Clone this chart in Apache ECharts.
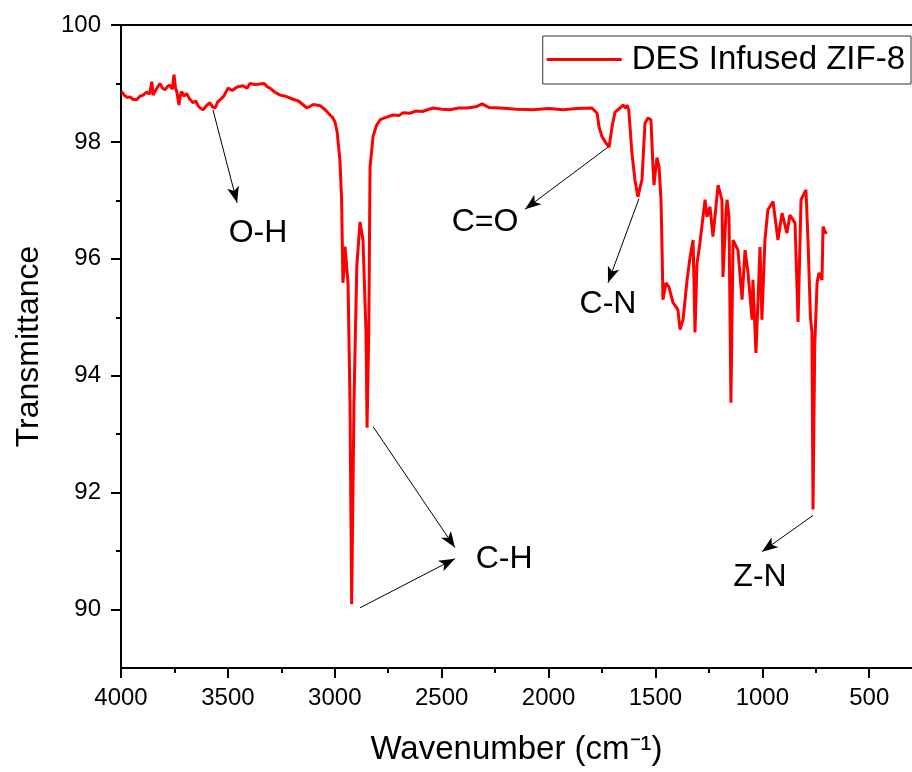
<!DOCTYPE html>
<html><head><meta charset="utf-8">
<script src="https://cdn.jsdelivr.net/npm/echarts@6/dist/echarts.min.js"></script>
<style>html,body{margin:0;padding:0;background:#fff}#c{width:912px;height:772px}</style>
</head><body><div id="c"></div>
<script>
const seriesName = 'DES Infused ZIF-8';
const wavenumber = [
3997,3985,3970,3958,3945,3927,3912,3897,3880,3866,3856,3850,3835,3818,3806,3794,3782,3771,3760,3752,3745,3739,3729,3722,3716,3705,3693,3680,3663,3650,3640,3630,3616,3600,3584,3572,3560,3548,3537,3520,3499,3480,3457,3430,3410,3397,3375,3350,3330,3315,3303,3280,3256,3230,3195,3170,3150,3130,3100,3069,3045,3022,3010,2999,2989,2976,2968,2962,2957,2952,2944,2938,2929,2921,2910,2897,2882,2868,2854,2849,2841,2835,2821,2805,2788,2760,2728,2700,2680,2648,2620,2590,2541,2500,2461,2420,2382,2340,2311,2280,2227,2150,2073,2000,1932,1870,1797,1773,1764,1750,1731,1717,1703,1689,1666,1652,1640,1633,1625,1619,1610,1596,1582,1570,1563,1549,1535,1521,1511,1507,1493,1483,1474,1469,1465,1451,1437,1418,1395,1385,1371,1352,1338,1324,1315,1306,1292,1268,1259,1245,1231,1207,1189,1184,1170,1165,1156,1147,1137,1114,1095,1081,1067,1048,1044,1030,1020,1011,1002,988,974,950,927,908,885,871,847,833,819,796,786,775,768,763,755,744,735,721,716,705,697
];
const transmittance = [
98.86,98.80,98.76,98.77,98.73,98.72,98.78,98.80,98.85,98.82,99.03,98.80,98.90,99.00,98.92,98.89,98.95,98.97,98.90,99.15,98.92,98.86,98.63,98.80,98.86,98.78,98.83,98.74,98.67,98.70,98.62,98.58,98.55,98.62,98.67,98.60,98.58,98.68,98.72,98.78,98.92,98.88,98.94,98.96,98.92,99.00,98.98,98.99,99.00,98.94,98.92,98.85,98.80,98.78,98.73,98.70,98.64,98.58,98.64,98.62,98.55,98.46,98.42,98.34,98.17,97.69,97.01,95.59,95.80,96.21,96.21,95.59,93.59,90.09,93.59,95.87,96.63,96.32,94.74,93.11,94.74,97.57,98.09,98.28,98.38,98.42,98.46,98.45,98.50,98.49,98.53,98.52,98.58,98.56,98.55,98.58,98.58,98.60,98.65,98.59,98.58,98.56,98.55,98.57,98.55,98.57,98.58,98.49,98.26,98.09,97.98,97.91,98.26,98.51,98.58,98.63,98.58,98.63,98.55,98.26,97.81,97.35,97.06,97.25,97.35,98.32,98.41,98.38,97.52,97.26,97.73,97.57,97.00,96.15,95.30,95.59,95.52,95.25,95.13,94.79,94.96,95.64,96.03,96.32,94.74,95.90,96.27,97.01,96.72,96.89,96.38,97.26,97.01,95.69,96.80,97.01,96.72,93.54,96.32,96.15,95.30,96.15,95.76,94.96,95.64,94.39,95.30,96.20,94.96,96.32,96.84,96.98,96.32,96.78,96.44,96.75,96.61,94.92,97.01,97.18,96.27,95.00,94.74,91.71,94.50,95.59,95.76,95.64,96.55,96.45,96.44
];
const xMajorTicks = [4000,3500,3000,2500,2000,1500,1000,500];
const xMinorTicks = [3750,3250,2750,2250,1750,1250,750];
const yMajorTicks = [90,92,94,96,98,100];
const yMinorTicks = [91,93,95,97,99];
const labelNames = ['O-H','C-H','C=O','C-N','Z-N'];
const labelWn = [3359,2208,2297,1722,1011];
const labelT = [96.44,90.87,96.62,95.23,90.56];
const arrowFromWn = [3570,2821,2882,1722,1577,763];
const arrowFromT = [98.55,93.13,90.03,97.91,97.03,91.61];
const arrowToWn = [3457,2438,2438,2110,1722,1002];
const arrowToT = [96.96,91.06,90.87,96.85,95.59,90.99];

const FONT = 'Liberation Sans, Arial, sans-serif';
const chart = echarts.init(document.getElementById('c'), null, {renderer:'canvas'});
const spectrum = wavenumber.map((w,i)=>[w, transmittance[i]]);
const labels = labelNames.map((n,i)=>[labelWn[i], labelT[i], n]);
const arrows = arrowFromWn.map((w,i)=>[{coord:[w, arrowFromT[i]]},{coord:[arrowToWn[i], arrowToT[i]]}]);
const XMIN=300, XMAX=4000, YMIN=89, YMAX=100;
const axisLineStyle = {color:'#000', width:2};
chart.setOption({
  animation:false,
  backgroundColor:'#fff',
  textStyle:{fontFamily:FONT},
  grid:{left:121, right:0, top:25, bottom:104},
  legend:{
    right:1, top:36, orient:'horizontal',
    data:[{name:seriesName, icon:'rect'}],
    itemWidth:75, itemHeight:3,
    borderColor:'#333', borderWidth:1, padding:[7,6,8,4],
    textStyle:{fontSize:33, color:'#000', fontFamily:FONT, padding:[0,0,0,5]}
  },
  xAxis:[
    {type:'value', inverse:true, min:XMIN, max:XMAX, position:'bottom',
     name:'Wavenumber (cm\u207B\u00B9)', nameLocation:'middle', nameGap:65,
     nameTextStyle:{fontSize:33, color:'#000', fontFamily:FONT},
     axisLine:{show:true, lineStyle:axisLineStyle},
     axisTick:{show:true, inside:false, length:10, lineStyle:{color:'#000', width:2}, customValues:xMajorTicks},
     axisLabel:{show:true, fontSize:24, color:'#000', margin:18, fontFamily:FONT, customValues:xMajorTicks,
       formatter:(v)=>String(v)},
     splitLine:{show:false}},
    {type:'value', inverse:true, min:XMIN, max:XMAX, position:'bottom',
     axisLine:{show:false},
     axisTick:{show:true, inside:false, length:5, lineStyle:{color:'#000', width:2}, customValues:xMinorTicks},
     axisLabel:{show:false}, splitLine:{show:false}},
    {type:'value', inverse:true, min:XMIN, max:XMAX, position:'top',
     axisLine:{show:true, lineStyle:axisLineStyle},
     axisTick:{show:false}, axisLabel:{show:false}, splitLine:{show:false}}
  ],
  yAxis:[
    {type:'value', min:YMIN, max:YMAX, position:'left',
     name:'Transmittance', nameLocation:'middle', nameGap:76, nameRotate:90,
     nameTextStyle:{fontSize:32, color:'#000', fontFamily:FONT},
     axisLine:{show:true, lineStyle:axisLineStyle},
     axisTick:{show:true, inside:false, length:10, lineStyle:{color:'#000', width:2}, customValues:yMajorTicks},
     axisLabel:{show:true, fontSize:24, color:'#000', margin:20, fontFamily:FONT, customValues:yMajorTicks,
       formatter:(v)=>String(v)},
     splitLine:{show:false}},
    {type:'value', min:YMIN, max:YMAX, position:'left',
     axisLine:{show:false},
     axisTick:{show:true, inside:false, length:5, lineStyle:{color:'#000', width:2}, customValues:yMinorTicks},
     axisLabel:{show:false}, splitLine:{show:false}}
  ],
  series:[
    {name:seriesName, type:'line', xAxisIndex:0, yAxisIndex:0, data:spectrum,
     showSymbol:false, symbol:'none', smooth:false,
     lineStyle:{color:'#ff0000', width:3}, itemStyle:{color:'#ff0000'},
     markLine:{silent:true, symbol:['none','arrow'], symbolSize:[9,16], precision:2,
       itemStyle:{color:'#000'},
       lineStyle:{color:'#000', width:1, type:'solid'}, label:{show:false},
       emphasis:{disabled:true}, data:arrows}},
    {name:'labels', type:'scatter', xAxisIndex:0, yAxisIndex:0, data:labels,
     symbolSize:1, itemStyle:{color:'rgba(0,0,0,0)'}, silent:true,
     label:{show:true, position:'inside', fontSize:32, color:'#000', fontFamily:FONT,
       textBorderWidth:0, opacity:1, formatter:(p)=>p.value[2]}}
  ]
});
</script></body></html>
